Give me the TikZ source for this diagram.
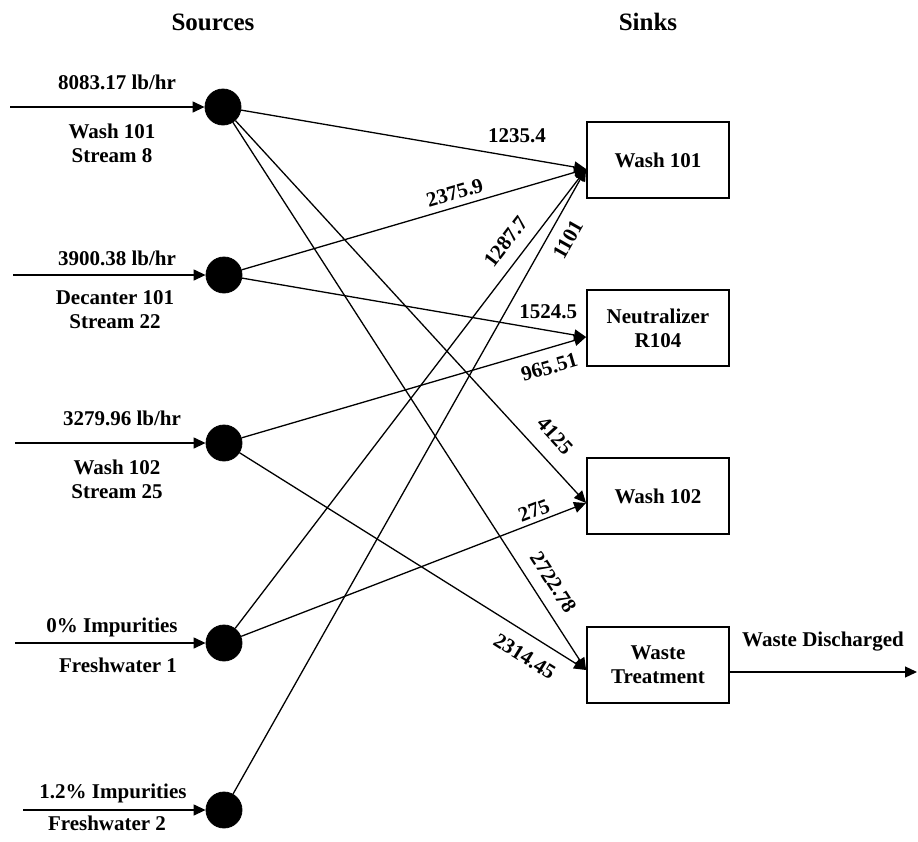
\documentclass[tikz,border=0pt]{standalone}
\usepackage{fontspec}
\setmainfont{Liberation Serif}
\usetikzlibrary{arrows.meta, positioning}
\tikzset{
    source/.style={circle, draw=black, fill=black, minimum size=18pt, inner sep=0pt},
    sink/.style={rectangle, draw=black, line width=0.9pt, minimum width=71pt, minimum height=38pt, align=center},
    flow/.style={-{Triangle[length=6pt, width=5.5pt]}, line width=0.65pt},
    amt/.style={inner sep=1pt},
    heading/.style={font=\fontsize{12.5}{14}\selectfont\bfseries}
}

\begin{document}
\begin{tikzpicture}[x=0.5pt, y=-0.5pt, font=\fontsize{10.5}{12}\selectfont\bfseries]
    \useasboundingbox (0,0) rectangle (918,842);

    % Headings
    \node[heading] (hsrc) at (213,22) {Sources};
    \node[heading] (hsnk) at (648,22) {Sinks};

    % Sources
    \node[source] (st8) at (223,107) {};
    \node[source] (st22) at (224,275) {};
    \node[source] (st25) at (224,443) {};
    \node[source] (fw1) at (224,643) {};
    \node[source] (fw2) at (224,810) {};

    % Incoming streams
    \coordinate (in8) at (10,107);
    \coordinate (in22) at (13,275);
    \coordinate (in25) at (15,443);
    \coordinate (infw1) at (15,643);
    \coordinate (infw2) at (23,810);
    \draw[flow] (in8) -- (st8);
    \draw[flow] (in22) -- (st22);
    \draw[flow] (in25) -- (st25);
    \draw[flow] (infw1) -- (fw1);
    \draw[flow] (infw2) -- (fw2);

    \node (q8) at (117,82) {8083.17 lb/hr};
    \node[align=center] (n8) at (112,143) {Wash 101\\Stream 8};
    \node (q22) at (117,258) {3900.38 lb/hr};
    \node[align=center] (n22) at (115,310) {Decanter 101\\Stream 22};
    \node (q25) at (122,418) {3279.96 lb/hr};
    \node[align=center] (n25) at (117,479) {Wash 102\\Stream 25};
    \node (qfw1) at (112,627) {0\% Impurities};
    \node (nfw1) at (118,665) {Freshwater 1};
    \node (qfw2) at (113,793) {1.2\% Impurities};
    \node (nfw2) at (107,823) {Freshwater 2};

    % Sinks
    \node[sink] (wash101) at (658,160) {Wash 101};
    \node[sink] (neutral) at (658,328) {Neutralizer\\R104};
    \node[sink] (wash102) at (658,496) {Wash 102};
    \node[sink] (waste) at (658,665) {Waste\\Treatment};

    \coordinate (e101) at ([yshift=-4.5pt]wash101.west);
    \coordinate (eneu) at ([yshift=-4.5pt]neutral.west);
    \coordinate (e102) at ([yshift=-3.5pt]wash102.west);
    \coordinate (ewt) at ([yshift=-2.5pt]waste.west);

    % Allocated flows
    \draw[flow] (st8) -- node[amt, pos=0.80, above=6pt] {1235.4} (e101);
    \draw[flow] (st8) -- node[amt, sloped, pos=0.864, above=6.4pt] {4125} (e102);
    \draw[flow] (st8) -- node[amt, sloped, pos=0.86, above=5.2pt] {2722.78} (ewt);
    \draw[flow] (st22) -- node[amt, sloped, pos=0.63, above=2pt] {2375.9} (e101);
    \draw[flow] (st22) -- node[amt, pos=0.89, above=4.7pt] {1524.5} (eneu);
    \draw[flow] (st25) -- node[amt, sloped, pos=0.878, below=4.5pt] {965.51} (eneu);
    \draw[flow] (st25) -- node[amt, sloped, pos=0.855, below=5.7pt] {2314.45} (ewt);
    \draw[flow] (fw1) -- node[amt, sloped, pos=0.816, above=5pt] {1287.7} (e101);
    \draw[flow] (fw1) -- node[amt, sloped, pos=0.861, above=1pt] {275} (e102);
    \draw[flow] (fw2) -- node[amt, sloped, pos=0.902, below=4.5pt] {1101} (e101);

    % Discharge
    \coordinate (wout) at ([yshift=-3.5pt]waste.east);
    \coordinate (dis) at (917,672);
    \draw[flow] (wout) -- (dis);
    \node (ndis) at (823,642) {Waste Discharged};
\end{tikzpicture}
\end{document}
